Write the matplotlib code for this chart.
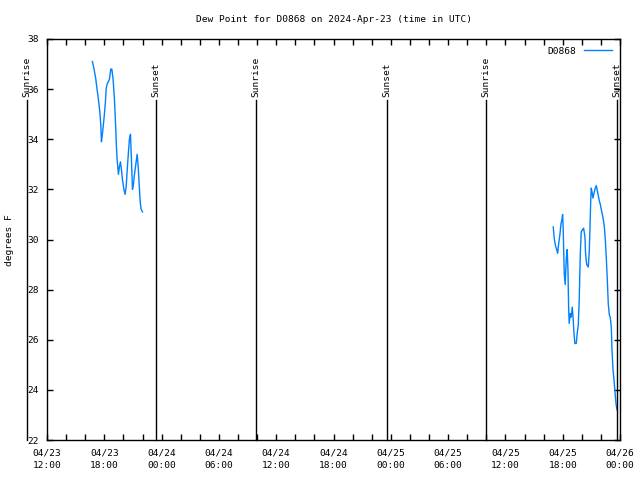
import matplotlib
matplotlib.use("Agg")
import matplotlib.pyplot as plt
import matplotlib.dates as mdates
import matplotlib.transforms as mtransforms
import pandas as pd

# hours since 2024-04-23 12:00 UTC, dew point in F
t1 = [4.75, 4.93, 5.11, 5.24, 5.38, 5.53, 5.63, 5.70, 5.80, 5.91,
      6.01, 6.12, 6.19, 6.29, 6.43, 6.54, 6.68, 6.79, 6.92, 7.06,
      7.17, 7.27, 7.34, 7.48, 7.58, 7.69, 7.79, 7.90, 8.05, 8.18,
      8.29, 8.42, 8.53, 8.63, 8.74, 8.84, 8.95, 9.05, 9.16, 9.30,
      9.44, 9.55, 9.65, 9.76, 9.86, 10.00]
dew1 = [37.1, 36.8, 36.4, 36.0, 35.6, 35.1, 34.6, 33.9, 34.2, 34.6,
        35.0, 35.5, 36.0, 36.2, 36.3, 36.4, 36.8, 36.8, 36.4, 35.6,
        34.7, 33.7, 33.2, 32.6, 32.9, 33.1, 32.8, 32.4, 32.0, 31.8,
        32.1, 32.9, 33.5, 34.0, 34.2, 33.2, 32.0, 32.2, 32.6, 33.0,
        33.4, 32.9, 32.2, 31.5, 31.2, 31.1]

t2 = [53.01, 53.11, 53.22, 53.36, 53.47, 53.57, 53.71, 53.81, 53.92, 53.99,
      54.05, 54.16, 54.26, 54.37, 54.47, 54.55, 54.62, 54.68, 54.79, 54.89,
      55.00, 55.10, 55.18, 55.28, 55.42, 55.52, 55.63, 55.73, 55.84, 55.94,
      56.09, 56.19, 56.33, 56.40, 56.51, 56.68, 56.78, 56.86, 56.93, 56.99,
      57.07, 57.17, 57.28, 57.41, 57.52, 57.62, 57.73, 57.83, 57.94, 58.04,
      58.15, 58.25, 58.36, 58.46, 58.56, 58.67, 58.77, 58.88, 58.98, 59.09,
      59.16, 59.27, 59.37, 59.48, 59.58, 59.69]
dew2 = [30.5, 30.05, 29.8, 29.6, 29.45, 29.8, 30.2, 30.6, 30.8, 31.0,
        30.45, 28.65, 28.2, 29.2, 29.6, 28.8, 27.3, 26.65, 27.05, 26.9,
        27.3, 26.8, 26.25, 25.85, 25.85, 26.25, 26.6, 27.6, 29.4, 30.3,
        30.4, 30.45, 30.1, 29.4, 29.0, 28.9, 29.5, 30.5, 31.5, 32.05,
        31.9, 31.65, 31.85, 32.05, 32.15, 31.95, 31.75, 31.55, 31.4, 31.2,
        31.0, 30.8, 30.5, 30.0, 29.3, 28.4, 27.45, 27.0, 26.9, 26.5,
        25.6, 24.8, 24.4, 23.9, 23.45, 23.2]

sun_times = ["2024-04-23 09:54", "2024-04-23 23:26", "2024-04-24 09:55",
             "2024-04-24 23:34", "2024-04-25 09:57", "2024-04-25 23:41"]
sun_labels = ["Sunrise", "Sunset", "Sunrise", "Sunset", "Sunrise", "Sunset"]

start = pd.Timestamp("2024-04-23 12:00")
end = pd.Timestamp("2024-04-26 00:00")
x1 = [start + pd.Timedelta(hours=h) for h in t1]
x2 = [start + pd.Timedelta(hours=h) for h in t2]

fs = 6.8
plt.rcParams["font.family"] = "DejaVu Sans Mono"
plt.rcParams["font.size"] = fs

fig = plt.figure(figsize=(6.4, 4.8), dpi=100)
ax = fig.add_axes([47 / 640, 40 / 480, 573 / 640, 401 / 480])

line_col = "#0080ff"
ax.plot(x1, dew1, color=line_col, lw=1, label="D0868")
ax.plot(x2, dew2, color=line_col, lw=1)

ax.set_xlim(start, end)
ax.set_ylim(22, 38)
ax.set_yticks(range(22, 39, 2))

ax.xaxis.set_major_locator(mdates.HourLocator(byhour=[0, 6, 12, 18]))
ax.xaxis.set_minor_locator(mdates.HourLocator(interval=2))
ax.xaxis.set_major_formatter(mdates.DateFormatter("%m/%d\n%H:%M"))

ax.tick_params(which="both", direction="in", top=True, right=True,
               length=4, width=1, labelsize=fs)
ax.tick_params(axis="x", pad=6)
ax.tick_params(axis="y", pad=6)
for lbl in ax.get_xticklabels():
    lbl.set_linespacing(1.5)
for s in ax.spines.values():
    s.set_linewidth(1)

trans = mtransforms.blended_transform_factory(ax.transData, ax.transAxes)
for st, lab in zip(sun_times, sun_labels):
    tx = pd.Timestamp(st)
    ax.plot([tx, tx], [0, 0.848], color="black", lw=1, transform=trans,
            clip_on=False)
    ax.text(tx, 0.856, lab, rotation=90, ha="center", va="bottom",
            transform=trans, fontsize=fs, clip_on=False)

ax.set_title("Dew Point for D0868 on 2024-Apr-23 (time in UTC)",
             fontsize=fs, pad=12)
fig.text(10 / 640, 240 / 480, "degrees F", rotation=90, ha="center",
         va="center", fontsize=fs)

ax.legend(loc="upper right", frameon=False, markerfirst=False,
          handlelength=3.0, fontsize=fs, borderaxespad=0.4)

fig.savefig("out.png", dpi=100)
